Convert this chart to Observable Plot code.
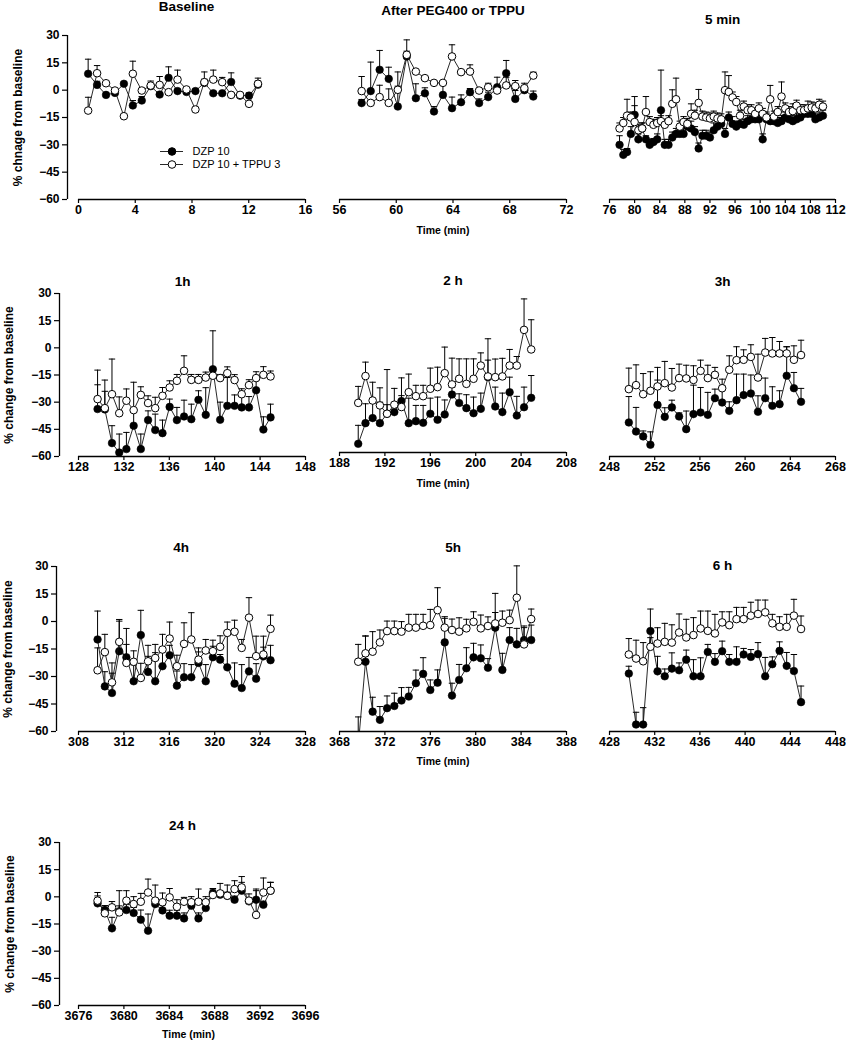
<!DOCTYPE html>
<html><head><meta charset="utf-8">
<script src="https://cdn.jsdelivr.net/npm/d3@7"></script>
<script src="https://cdn.jsdelivr.net/npm/@observablehq/plot@0.6"></script>
<style>
body{margin:0;background:#fff;}
#chart{position:relative;width:846px;height:1050px;overflow:hidden;background:#fff;}
#chart svg{position:absolute;}
</style></head><body><div id="chart"></div>
<script>
// ---------- DATA ----------
const seriesNames = ["DZP 10", "DZP 10 + TPPU 3"];
const yTicks = [30, 15, 0, -15, -30, -45, -60];

// Baseline
const baseTicks = [0, 4, 8, 12, 16];
const baseTime = [0.68, 1.31, 1.94, 2.57, 3.20, 3.83, 4.46, 5.09, 5.72, 6.35, 6.98, 7.61, 8.24, 8.87, 9.50, 10.13, 10.76, 11.39, 12.02, 12.65];
const baseDZP = [9, 2.9, -2.6, -1.5, 3.5, -8.4, -5.7, 2.2, -2.4, 6.8, -0.5, -1, -0.5, 4, -1.7, -1.7, 4.5, -3, -3, 3];
const baseDZPse = [8, 2, 1, 1, 1, 2.7, 2.2, 1.5, 1, 6, 1, 1, 1, 2, 1, 1, 5, 1, 1.5, 2];
const baseTPPU = [-11.2, 9.3, 3.8, -0.2, -14.3, 9, -0.2, 2.5, 2.9, -1.1, 5.8, 0.4, -10.6, 4.4, 5.8, 4.4, -2.6, -2.6, -7.5, 3.5];
const baseTPPUse = [7.3, 4.2, 1, 1, 1, 6.9, 1, 2.5, 4.6, 1, 5.2, 1, 1, 5.6, 5.2, 2.6, 1, 1, 1, 3.1];

// After PEG400 or TPPU
const pegTicks = [56, 60, 64, 68, 72];
const pegTime = [57.56, 58.20, 58.83, 59.47, 60.11, 60.74, 61.38, 62.02, 62.66, 63.29, 63.93, 64.57, 65.20, 65.84, 66.48, 67.11, 67.75, 68.39, 69.03, 69.66];
const pegDZP = [-7.1, -0.5, 11.2, 6.2, -9, 18.5, -4.4, -1.7, -11.7, -2.6, -9.9, -6.6, -1.1, -7.1, -3.8, 1.6, 9.3, -4.8, 0, -3.5];
const pegDZPse = [2, 15.9, 10.6, 6.4, 19, 9.1, 7.9, 3, 2.7, 6.1, 6.1, 4, 2, 2.3, 2.7, 5.5, 7, 4.6, 2, 3];
const pegTPPU = [-0.5, -7, -3.8, -7, 0.2, 19.4, 10.2, 6.6, 4, 4, 18.5, 9.9, 10.2, -0.2, 1.6, -0.2, 2.6, 2.2, 1.1, 8];
const pegTPPUse = [8, 1, 6.5, 7.7, 2, 2, 1, 1, 1, 1, 6.4, 1, 3.7, 1, 2.2, 2, 4.5, 3.1, 2.7, 1.9];

// 5 min
const min5Ticks = [76, 80, 84, 88, 92, 96, 100, 104, 108, 112];
const min5Time = [77.6, 78.2, 78.8, 79.4, 80.0, 80.6, 81.2, 81.8, 82.4, 83.0, 83.6, 84.2, 84.8, 85.4, 86.0, 86.6, 87.2, 87.8, 88.4, 89.0, 89.6, 90.2, 90.8, 91.4, 92.0, 92.6, 93.2, 93.8, 94.4, 95.0, 95.6, 96.2, 96.8, 97.4, 98.0, 98.6, 99.2, 99.8, 100.4, 101.0, 101.6, 102.2, 102.8, 103.4, 104.0, 104.6, 105.2, 105.8, 106.4, 107.0, 107.6, 108.2, 108.8, 109.4, 110.0];
const min5DZP = [-30, -35.5, -34, -24, -13.5, -27, -21, -27, -30, -28.5, -27, -11, -30, -30, -26, -24, -24, -24, -20, -21, -23, -32, -25, -25, -26, -22, -20, -18.5, -24, -15, -18.5, -20, -18.5, -19, -17, -16, -16, -16, -27, -16, -17, -17, -18, -17, -15, -16, -17, -16, -15, -13, -13, -13, -16, -15, -14];
const min5DZPse = [5, 3, 2, 4, 5, 3, 3, 2, 3, 2, 3, 22, 3, 3, 3, 3, 3, 3, 3, 4, 3, 3, 3, 3, 3, 4, 3, 3, 3, 3, 4, 3, 3, 3, 3, 3, 3, 3, 3, 3, 3, 3, 3, 3, 3, 3, 3, 3, 3, 3, 3, 3, 3, 3, 3];
const min5TPPU = [-21, -18, -14, -15, -17.5, -22, -21, -12, -17.5, -19, -18, -17, -19, -17, -7.5, -5, -20, -17.5, -18.5, -13, -14, -7, -14.5, -15, -15.5, -14.5, -15.5, -16, 0, -1, -4, -6.5, -14, -9, -11, -11, -13, -10, -13, -15, -5, -14.5, -12, -3.5, -10, -12, -11.5, -8.5, -11, -11, -10, -9.5, -10, -8, -9];
const min5TPPUse = [3, 3, 9, 3, 14, 3, 3, 8.5, 3, 3, 3, 3, 3, 3, 7.7, 11.6, 3, 3, 3, 5.5, 3, 7.4, 3, 3, 3, 3, 3, 3, 10, 9, 3, 3, 3, 3, 3, 3, 3, 3, 3, 3, 7.6, 3, 3, 8, 3, 3, 4, 3, 3, 3, 4, 3, 3, 3, 3];

// 1h
const h1Ticks = [128, 132, 136, 140, 144, 148];
const h1Time = [129.68, 130.32, 130.95, 131.59, 132.22, 132.86, 133.49, 134.13, 134.76, 135.40, 136.03, 136.67, 137.30, 137.94, 138.57, 139.21, 139.84, 140.48, 141.11, 141.75, 142.38, 143.02, 143.65, 144.29, 144.92];
const h1DZP = [-33.8, -34, -52.6, -57.8, -55.9, -43, -55.9, -39.9, -45.4, -47.1, -32.6, -39.9, -37.9, -39.4, -28.7, -37, -11.8, -39.7, -32, -32, -32.9, -32.9, -23.4, -45.1, -38.4];
const h1DZPse = [13.4, 10, 9.6, 10.2, 9.2, 9.2, 8.3, 5.1, 8.8, 7.2, 4.3, 7, 9, 8.3, 5, 15, 21.2, 9.7, 15.6, 6, 6, 6, 8, 7, 7.3];
const h1TPPU = [-28.3, -33.3, -25.6, -36.1, -29.2, -34.4, -26, -30.5, -33.3, -26.5, -21.9, -18.2, -12.7, -17.7, -17.7, -16.4, -15.4, -16.7, -14, -17.8, -25.6, -20.6, -16.7, -14.9, -15.8];
const h1TPPUse = [16, 15.5, 19.4, 9, 6.5, 15.4, 4.5, 4, 6, 4.6, 3.7, 3.5, 8.3, 3, 3, 3, 2, 2, 3.5, 3, 3, 3, 3.5, 4.5, 3];

// 2 h
const h2Ticks = [188, 192, 196, 200, 204, 208];
const h2Time = [189.65, 190.29, 190.92, 191.56, 192.19, 192.83, 193.46, 194.10, 194.73, 195.37, 196.00, 196.64, 197.27, 197.91, 198.54, 199.18, 199.81, 200.45, 201.08, 201.72, 202.35, 202.99, 203.62, 204.26, 204.89];
const h2DZP = [-55.2, -43.8, -41, -43.8, -38.6, -37.7, -31.6, -43.8, -42.7, -43.6, -38.6, -41.9, -39, -28, -32.7, -35.5, -38.3, -35.9, -18.4, -34.6, -37.7, -26.7, -39.6, -35, -29.8];
const h2DZPse = [10.2, 10.7, 8.4, 11.6, 5, 5, 3, 13.8, 8.7, 9.6, 8.6, 12.5, 8, 4, 5.1, 7.4, 8.9, 8.7, 21.2, 10.7, 10.5, 8.3, 10.6, 11.1, 12.3];
const h2TPPU = [-32.6, -17.8, -31.3, -34, -38.6, -33.6, -34.9, -26.7, -28.9, -28.9, -24.8, -23.9, -16.2, -22.4, -19.3, -22.1, -19.3, -12, -18, -18.4, -18, -12, -12, 7.7, -3.1];
const h2TPPUse = [9.1, 7.7, 10.1, 9.7, 24.4, 9, 16.1, 10, 6, 6, 11.4, 11, 14.4, 14.5, 11, 13.8, 11, 7, 9, 10, 10, 8.9, 5, 17.1, 16.4];

// 3h
const h3Ticks = [248, 252, 256, 260, 264, 268];
const h3Time = [249.71, 250.35, 250.98, 251.62, 252.25, 252.89, 253.52, 254.16, 254.79, 255.43, 256.06, 256.70, 257.33, 257.97, 258.60, 259.24, 259.87, 260.51, 261.14, 261.78, 262.41, 263.05, 263.68, 264.32, 264.95];
const h3DZP = [-41.2, -46.2, -48.9, -53.5, -31.5, -38.1, -32.9, -37.9, -44.9, -36.6, -35.7, -37, -27.8, -30.2, -34.8, -28.9, -26.1, -25.2, -35.3, -27.8, -32, -31.1, -15.4, -22.3, -29.8];
const h3DZPse = [14.3, 13.3, 3, 7.1, 13.7, 5, 4, 2, 10, 16, 13.8, 12.4, 5, 9.2, 5, 14.4, 11.6, 10.2, 8.8, 11.1, 10.5, 7.4, 16, 8.7, 7.4];
const h3TPPU = [-22.8, -20.6, -25.6, -23.7, -21.3, -19.5, -21.9, -16.7, -16.9, -17.7, -12.7, -16.7, -14.9, -22.3, -12.1, -6.8, -6.6, -5, -16.4, -2.6, -3.1, -3.1, -3.1, -6.6, -4];
const h3TPPUse = [11.6, 11.2, 11.4, 10.5, 10.5, 12, 10.5, 7.7, 7.3, 7.8, 5.9, 7.1, 4.1, 5, 7.7, 7.4, 5.5, 6.7, 12.9, 7.8, 8.8, 6.6, 3.7, 7.7, 8.2];

// 4h
const h4Ticks = [308, 312, 316, 320, 324, 328];
const h4Time = [309.68, 310.32, 310.95, 311.59, 312.22, 312.86, 313.49, 314.13, 314.76, 315.40, 316.03, 316.67, 317.30, 317.94, 318.57, 319.21, 319.84, 320.48, 321.11, 321.75, 322.38, 323.02, 323.65, 324.29, 324.92];
const h4DZP = [-9.8, -35.4, -39, -16.2, -19.5, -32.6, -7.4, -27.5, -32.6, -24.4, -18.4, -35, -30.4, -30.4, -22.6, -32.6, -19.5, -20.8, -25, -33.9, -36.3, -27.2, -31.2, -19, -21.1];
const h4DZPse = [15.5, 8, 16.4, 17.3, 7, 9, 13.5, 8.5, 15.6, 8.4, 5.4, 8, 7.4, 6.9, 6, 9.1, 6, 2.8, 18, 11.3, 12.8, 7.6, 8.2, 5, 8.1];
const h4TPPU = [-26.6, -16.7, -33.2, -11.1, -22.6, -22, -30.8, -21.7, -19.9, -15.3, -9.3, -24.4, -12.2, -9.8, -20.8, -15.8, -16.2, -13.8, -6.2, -5.6, -14.4, 2.1, -18.9, -18, -4];
const h4TPPUse = [12.2, 9.7, 5, 11.3, 18.8, 6, 8, 8.7, 7.4, 8.3, 9, 6, 11.5, 14.6, 6.4, 6, 6, 6, 5.9, 6.3, 4.6, 10.9, 10.9, 10, 7.5];

// 5h
const h5Ticks = [368, 372, 376, 380, 384, 388];
const h5Time = [369.65, 370.29, 370.92, 371.56, 372.19, 372.83, 373.46, 374.10, 374.73, 375.37, 376.00, 376.64, 377.27, 377.91, 378.54, 379.18, 379.81, 380.45, 381.08, 381.72, 382.35, 382.99, 383.62, 384.26, 384.89];
const h5DZP = [-68, -21.7, -49.1, -53.6, -47.2, -46, -43, -40.8, -33.5, -28.4, -37.2, -33.2, -11.1, -40.3, -31.7, -25.3, -19.3, -19.8, -25, -3, -26.2, -9.8, -12.2, -9.8, -9.8];
const h5DZPse = [16, 14.1, 7.9, 7.3, 6.7, 7, 7.1, 5, 7.2, 8.9, 5.5, 7, 13.2, 6.8, 8.5, 11.3, 7.7, 7.3, 5, 18.8, 9.1, 6.8, 8.8, 7.7, 8.2];
const h5TPPU = [-21.7, -17.1, -16.2, -11.1, -4.9, -4.9, -5.2, -3, -3, -2, -1.6, 6.6, -3, -4.3, -5.2, -3.4, 0.2, -3.4, -2.1, -0.7, -0.3, 1.1, 13.4, -12.2, 1.7];
const h5TPPUse = [9.5, 9.5, 11, 6.8, 5.5, 5.5, 5.5, 7.3, 7.3, 6.3, 8.6, 12.3, 6, 6, 7.6, 5, 5.5, 7.3, 5, 6, 6.4, 5.5, 17.5, 9.2, 5.5];

// 6 h
const h6Ticks = [428, 432, 436, 440, 444, 448];
const h6Time = [429.71, 430.35, 430.98, 431.62, 432.25, 432.89, 433.52, 434.16, 434.79, 435.43, 436.06, 436.70, 437.33, 437.97, 438.60, 439.24, 439.87, 440.51, 441.14, 441.78, 442.41, 443.05, 443.68, 444.32, 444.95];
const h6DZP = [-28.4, -56.2, -56.2, -5.2, -27.2, -29.9, -25.7, -26.6, -20.8, -29.9, -29.9, -16.6, -22, -16.2, -22, -22, -18, -19.3, -17.8, -29.9, -23.3, -16, -24.2, -27, -44];
const h6DZPse = [4, 6.7, 9.2, 12, 8.2, 4, 8.6, 4, 5.2, 9.1, 10.1, 4.1, 4.5, 5.5, 4, 8.2, 3.3, 4, 6.3, 10.3, 4, 4.9, 7.3, 9, 8.8];
const h6TPPU = [-18, -20.2, -21.7, -13.8, -12, -11.1, -11.5, -6, -8.7, -7.4, -3.8, -5.1, -6.5, -0.5, -2, 1.3, 1.3, 3.2, 4.1, 5, -1, -2.9, -2.9, 3.2, -4.1];
const h6TPPUse = [8.7, 10, 10.2, 5, 8.6, 10.1, 9.7, 10.1, 9.9, 9.5, 9.5, 10.8, 10.4, 5.8, 7.3, 6.4, 6.4, 7.3, 7.6, 6.7, 4.9, 5.5, 6.8, 8.9, 7.1];

// 24 h
const h24Ticks = [3676, 3680, 3684, 3688, 3692, 3696];
const h24Time = [3677.68, 3678.32, 3678.95, 3679.59, 3680.22, 3680.86, 3681.49, 3682.13, 3682.76, 3683.40, 3684.03, 3684.67, 3685.30, 3685.94, 3686.57, 3687.21, 3687.84, 3688.48, 3689.11, 3689.75, 3690.38, 3691.02, 3691.65, 3692.29, 3692.92];
const h24DZP = [-3.6, -7.3, -17.4, -8, -7.3, -8.9, -12.6, -18.7, -4, -7.5, -10.4, -10.4, -11.9, -4.9, -11.9, -6.2, 2.1, 1.2, 0.6, -1.6, 3.4, -2.5, -1.6, -4.4, 3.4];
const h24DZPse = [4.1, 2.4, 6.1, 3, 3, 3, 5.3, 9.2, 3, 3, 3, 3, 3, 1.9, 3, 3.2, 2.2, 2, 2, 2, 4.6, 2, 5, 2, 4.6];
const h24TPPU = [-2.1, -9.1, -5.8, -8.6, -2.1, -4, -2.7, 2.4, -2.1, -3, -0.3, -5.5, -2.7, -3, -2.7, -3, 1, 1.9, 0.6, 4.3, 5.2, -2.1, -10, 2.4, 3.4];
const h24TPPUse = [4.5, 4.2, 3.2, 12, 5.5, 4.1, 4.6, 7.4, 8.6, 5.1, 4.9, 3.9, 2.4, 3.1, 7, 3.1, 3.6, 5.5, 5.9, 4.6, 6, 3.7, 14.3, 8, 4.6];

// ---------- LAYOUT ----------
const FONT = '"Liberation Sans", Arial, Helvetica, sans-serif';
const columns = [
  {svgLeft: 0, width: 320, x0: 78, x1: 305},
  {svgLeft: 320, width: 260, x0: 339, x1: 566},
  {svgLeft: 580, width: 266, x0: 609, x1: 835}
];
const panels = [
  {title: "Baseline", col: 0, top: 35, bottom: 199, titleY: 6, axisX: 67, yLabel: "% chnage from baseline", yLabelX: 18,
   ticks: baseTicks, time: baseTime, dzp: baseDZP, dzpSe: baseDZPse, tppu: baseTPPU, tppuSe: baseTPPUse},
  {title: "After PEG400 or TPPU", col: 1, top: 35, bottom: 199, titleY: 10, timeY: 230, timeDx: -10,
   ticks: pegTicks, time: pegTime, dzp: pegDZP, dzpSe: pegDZPse, tppu: pegTPPU, tppuSe: pegTPPUse},
  {title: "5 min", col: 2, top: 35, bottom: 199, titleY: 19,
   ticks: min5Ticks, time: min5Time, dzp: min5DZP, dzpSe: min5DZPse, tppu: min5TPPU, tppuSe: min5TPPUse},
  {title: "1h", col: 0, top: 293, bottom: 456, titleY: 281, axisX: 59, yLabel: "% change from baseline", yLabelX: 9,
   ticks: h1Ticks, time: h1Time, dzp: h1DZP, dzpSe: h1DZPse, tppu: h1TPPU, tppuSe: h1TPPUse},
  {title: "2 h", col: 1, top: 289, bottom: 452, titleY: 280, timeY: 483, timeDx: -10,
   ticks: h2Ticks, time: h2Time, dzp: h2DZP, dzpSe: h2DZPse, tppu: h2TPPU, tppuSe: h2TPPUse},
  {title: "3h", col: 2, top: 293, bottom: 456, titleY: 281,
   ticks: h3Ticks, time: h3Time, dzp: h3DZP, dzpSe: h3DZPse, tppu: h3TPPU, tppuSe: h3TPPUse},
  {title: "4h", col: 0, top: 566, bottom: 731, titleY: 547, axisX: 56, yLabel: "% change from baseline", yLabelX: 8,
   ticks: h4Ticks, time: h4Time, dzp: h4DZP, dzpSe: h4DZPse, tppu: h4TPPU, tppuSe: h4TPPUse},
  {title: "5h", col: 1, top: 567, bottom: 731, titleY: 547, timeY: 761, timeDx: -10,
   ticks: h5Ticks, time: h5Time, dzp: h5DZP, dzpSe: h5DZPse, tppu: h5TPPU, tppuSe: h5TPPUse},
  {title: "6 h", col: 2, top: 566, bottom: 731, titleY: 565,
   ticks: h6Ticks, time: h6Time, dzp: h6DZP, dzpSe: h6DZPse, tppu: h6TPPU, tppuSe: h6TPPUse},
  {title: "24 h", col: 0, top: 842, bottom: 1005, titleY: 825, axisX: 59, yLabel: "% change from baseline", yLabelX: 10, timeY: 1034, timeDx: 6,
   ticks: h24Ticks, time: h24Time, dzp: h24DZP, dzpSe: h24DZPse, tppu: h24TPPU, tppuSe: h24TPPUse}
];

// short horizontal stroke used as error-bar cap
const capSymbol = {
  draw(context, size) {
    const w = Math.sqrt(size / Math.PI);
    context.moveTo(-w, 0);
    context.lineTo(w, 0);
  }
};

const chart = document.getElementById("chart");

function drawPanel(p) {
  const col = columns[p.col];
  const mt = Math.min(45, p.top);
  const mb = 45;
  const height = p.bottom - p.top + mt + mb;
  const hasY = p.axisX != null;
  const marginLeft = hasY ? p.axisX - col.svgLeft : col.x0 - col.svgLeft;
  const rangeStart = col.x0 - col.svgLeft;
  const xDomain = [p.ticks[0], p.ticks[p.ticks.length - 1]];
  const rows = p.time.map((t, i) => ({t, f: p.dzp[i], fe: p.dzpSe[i], o: p.tppu[i], oe: p.tppuSe[i]}));

  const marks = [
    Plot.ruleY([{y: -60, a: xDomain[0], b: xDomain[1]}], {y: "y", x1: "a", x2: "b", stroke: "#000", strokeWidth: 1.3}),
    Plot.axisX({ticks: p.ticks, tickSize: 4, tickPadding: 2, tickFormat: "d", fontSize: 12.5, fontWeight: "bold", strokeWidth: 1.2, label: null})
  ];
  if (hasY) {
    marks.push(
      Plot.ruleX([{x: xDomain[0], lo: -60, hi: 30}], {x: "x", y1: "lo", y2: "hi", dx: marginLeft - rangeStart, stroke: "#000", strokeWidth: 1.3}),
      Plot.axisY({ticks: yTicks, tickSize: 5, tickPadding: 3, fontSize: 12, fontWeight: "bold", strokeWidth: 1.2, label: null}),
      Plot.text([p.yLabel], {frameAnchor: "left", textAnchor: "middle", lineAnchor: "middle", rotate: -90, dx: (p.yLabelX - col.svgLeft) - marginLeft, fontSize: 12, fontWeight: "bold", fill: "#000"})
    );
  }
  marks.push(
    Plot.text([p.title], {frameAnchor: "top", textAnchor: "middle", lineAnchor: "middle", dy: p.titleY - p.top, fontSize: 13.5, fontWeight: "bold", fill: "#000"})
  );
  if (p.timeY != null) {
    marks.push(Plot.text(["Time (min)"], {frameAnchor: "bottom", textAnchor: "middle", lineAnchor: "middle", dy: p.timeY - p.bottom, dx: p.timeDx || 0, fontSize: 10.5, fontWeight: "bold", fill: "#000"}));
  }
  // DZP 10 (filled)
  marks.push(
    Plot.ruleX(rows, {x: "t", y1: "f", y2: d => d.f + d.fe, stroke: "#000", strokeWidth: 1, clip: true}),
    Plot.dot(rows, {x: "t", y: d => d.f + d.fe, symbol: capSymbol, r: 3.2, fill: "none", stroke: "#000", strokeWidth: 1, clip: true}),
    Plot.line(rows, {x: "t", y: "f", stroke: "#111", strokeWidth: 0.9, clip: true}),
    Plot.dot(rows, {x: "t", y: "f", r: 3.8, fill: "#000", stroke: "#000", strokeWidth: 0.6, clip: true})
  );
  // DZP 10 + TPPU 3 (open)
  marks.push(
    Plot.ruleX(rows, {x: "t", y1: "o", y2: d => d.o + d.oe, stroke: "#000", strokeWidth: 1}),
    Plot.dot(rows, {x: "t", y: d => d.o + d.oe, symbol: capSymbol, r: 3.2, fill: "none", stroke: "#000", strokeWidth: 1}),
    Plot.line(rows, {x: "t", y: "o", stroke: "#111", strokeWidth: 0.9}),
    Plot.dot(rows, {x: "t", y: "o", r: 3.8, fill: "#fff", stroke: "#000", strokeWidth: 1})
  );

  const svg = Plot.plot({
    width: col.width,
    height,
    marginTop: mt,
    marginBottom: mb,
    marginLeft,
    marginRight: col.svgLeft + col.width - col.x1,
    x: {domain: xDomain, range: [rangeStart, col.x1 - col.svgLeft]},
    y: {domain: [-60, 30], axis: hasY ? undefined : null},
    style: {background: "transparent", overflow: "visible", fontFamily: FONT, color: "#000"},
    marks
  });
  svg.style.left = col.svgLeft + "px";
  svg.style.top = (p.top - mt) + "px";
  chart.appendChild(svg);
}

panels.forEach(drawPanel);

// legend (inside the Baseline panel)
const legendRows = seriesNames.map((name, i) => ({name, filled: i === 0}));
const legend = Plot.plot({
  width: 170,
  height: 30,
  marginLeft: 10,
  marginRight: 137,
  marginTop: 0,
  marginBottom: 0,
  x: {axis: null},
  y: {type: "point", domain: seriesNames, range: [8, 21], padding: 0, axis: null},
  style: {background: "transparent", overflow: "visible", fontFamily: FONT, color: "#000"},
  marks: [
    Plot.ruleY(legendRows, {y: "name", stroke: "#111", strokeWidth: 0.9}),
    Plot.dot(legendRows, {y: "name", r: 3.8, fill: d => d.filled ? "#000" : "#fff", stroke: "#000", strokeWidth: 1}),
    Plot.text(legendRows, {y: "name", text: "name", frameAnchor: "right", textAnchor: "start", dx: 9, fontSize: 11, fill: "#000"})
  ]
});
legend.style.left = "150px";
legend.style.top = "143px";
chart.appendChild(legend);
</script>
</body></html>
